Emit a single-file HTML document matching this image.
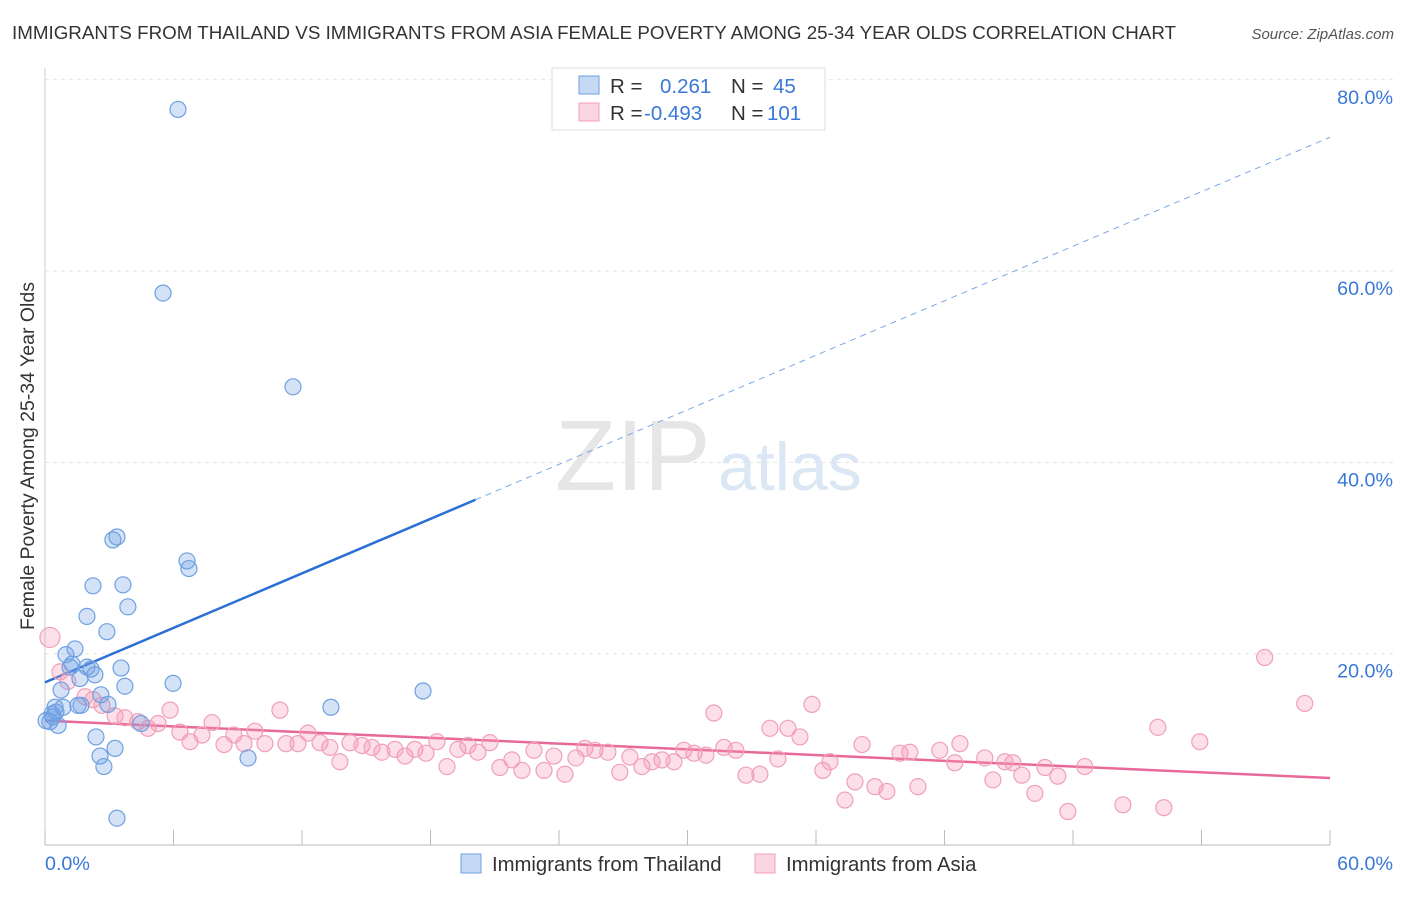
<!DOCTYPE html>
<html><head><meta charset="utf-8"><style>
body{margin:0;background:#fff;font-family:"Liberation Sans",sans-serif;}
svg text{font-family:"Liberation Sans",sans-serif;}
</style></head><body>
<svg id="chart" width="1406" height="892">
<text x="12" y="39" font-size="18.5" fill="#333" textLength="1164" lengthAdjust="spacingAndGlyphs">IMMIGRANTS FROM THAILAND VS IMMIGRANTS FROM ASIA FEMALE POVERTY AMONG 25-34 YEAR OLDS CORRELATION CHART</text>
<text x="1394" y="39" font-size="15" fill="#555" text-anchor="end" font-style="italic">Source: ZipAtlas.com</text>
<g id="grid"></g>
<text x="555" y="490" font-size="100" fill="#e6e6e6" font-family="Liberation Serif">ZIP</text>
<text x="718" y="490" font-size="68" fill="#dce7f5">atlas</text>
<g id="axes"></g>
<g id="trend"></g>
<g id="pts"></g>
<text transform="translate(34,456) rotate(-90)" font-size="19.5" fill="#333" text-anchor="middle">Female Poverty Among 25-34 Year Olds</text>
<g>
<rect x="552" y="68" width="273" height="62" fill="#fff" stroke="#ddd"/>
<rect x="579" y="76" width="20" height="18" fill="rgba(110,160,230,0.4)" stroke="#6fa0e0"/>
<rect x="579" y="103" width="20" height="18" fill="rgba(245,150,180,0.4)" stroke="#f0a0b8"/>
<text x="610" y="93" font-size="20.5" fill="#333">R = <tspan fill="#3a78d8" x="660">0.261</tspan><tspan x="731" fill="#333">N = </tspan><tspan fill="#3a78d8" x="773">45</tspan></text>
<text x="610" y="120" font-size="20.5" fill="#333">R = <tspan fill="#3a78d8" x="644">-0.493</tspan><tspan x="731" fill="#333">N = </tspan><tspan fill="#3a78d8" x="767">101</tspan></text>
</g>
<g>
<rect x="461" y="854" width="20" height="19" fill="rgba(110,160,230,0.4)" stroke="#6fa0e0"/>
<text x="492" y="871" font-size="20.3" fill="#333">Immigrants from Thailand</text>
<rect x="755" y="854" width="20" height="19" fill="rgba(245,150,180,0.4)" stroke="#f0a0b8"/>
<text x="786" y="871" font-size="20.3" fill="#333">Immigrants from Asia</text>
</g>
</svg>
<script>
const yTicks=[20,40,60,80];
const yTickLabels=["20.0%","40.0%","60.0%","80.0%"];
const xTickVals=[0,6,12,18,24,30,36,42,48,54,60];
const xLabels=["0.0%","60.0%"];
const thaiX=[6.21,5.51,11.58,3.36,3.17,6.63,6.72,2.24,3.64,3.87,1.96,2.89,1.40,0.98,1.17,1.26,1.96,2.15,3.55,2.33,1.63,3.73,5.98,0.75,2.61,17.65,1.68,1.54,2.94,0.84,0.47,13.35,0.33,0.51,0.23,0.61,4.48,2.38,3.27,2.57,9.48,2.75,3.36,0.37,0.05];
const thaiY=[76.9,57.7,47.9,32.2,31.9,29.7,28.9,27.1,27.2,24.9,23.9,22.3,20.5,19.9,18.6,18.9,18.6,18.4,18.5,17.8,17.4,16.6,16.9,16.2,15.7,16.1,14.6,14.6,14.7,14.4,14.4,14.4,13.7,13.9,12.9,12.5,12.7,11.3,10.1,9.3,9.1,8.2,2.8,13.4,13.0];
const asiaX=[0.23,0.70,1.07,1.87,2.24,2.66,3.27,3.73,4.34,4.81,5.28,5.84,6.30,6.77,7.33,7.80,8.36,8.82,9.29,9.80,10.27,10.97,11.25,11.81,12.28,12.84,13.30,13.77,14.24,14.80,15.27,15.73,16.34,16.81,17.27,17.79,18.30,18.77,19.28,19.75,20.21,20.77,21.24,21.80,22.27,22.83,23.30,23.76,24.28,24.79,25.21,25.68,26.28,26.84,27.31,27.87,28.34,28.81,29.37,29.83,30.30,30.86,31.23,31.70,32.26,32.73,33.38,33.85,34.22,34.69,35.25,35.81,36.32,36.65,37.35,37.82,38.15,38.75,39.31,39.92,40.38,40.76,41.78,42.48,42.72,44.26,43.88,44.82,45.19,45.61,46.22,46.69,47.29,47.76,48.55,50.33,51.96,52.24,53.92,56.95,58.82];
const asiaY=[21.7,18.1,17.1,15.5,15.2,14.6,13.5,13.3,12.9,12.2,12.7,14.1,11.8,10.8,11.5,12.8,10.5,11.5,10.6,11.9,10.6,14.1,10.6,10.6,11.7,10.7,10.2,8.7,10.7,10.4,10.2,9.7,10.0,9.3,10.0,9.6,10.8,8.2,10.0,10.4,9.7,10.7,8.1,8.9,7.8,9.9,7.8,9.3,7.4,9.1,10.1,9.9,9.7,7.6,9.2,8.2,8.7,8.9,8.7,9.9,9.6,9.4,13.8,10.2,9.9,7.3,7.4,12.2,9.0,12.2,11.3,14.7,7.8,8.7,4.7,6.6,10.5,6.1,5.6,9.6,9.7,6.1,9.9,8.6,10.6,6.8,9.1,8.7,8.6,7.3,5.4,8.1,7.2,3.5,8.2,4.2,12.3,3.9,10.8,19.6,14.8];
const thaiTrend=[17.0,74.0];
const asiaTrend=[13.0,7.0];
const thaiSolidEnd=20.1;

const NS="http://www.w3.org/2000/svg";
const sx=v=>45+v*(1285/60);
const sy=v=>845-v*9.565;
function mk(tag,attrs,parent){const e=document.createElementNS(NS,tag);for(const k in attrs)e.setAttribute(k,attrs[k]);parent.appendChild(e);return e;}
const grid=document.getElementById('grid'),axes=document.getElementById('axes'),trend=document.getElementById('trend'),pts=document.getElementById('pts');
yTicks.forEach((t,i)=>{
 const l=mk('line',{x1:45,x2:1394,y1:sy(t),y2:sy(t),stroke:'#e2e2e2','stroke-dasharray':'4,4'},grid);
 
 
 const tx=mk('text',{x:1393,y:sy(t)+24,'font-size':19.7,fill:'#3a78d8','text-anchor':'end'},axes);
 tx.textContent=yTickLabels[i];
 
 
});
const ax=mk('line',{x1:45,x2:1330,y1:845,y2:845,stroke:'#bbb'},axes);


const ay=mk('line',{x1:45,x2:45,y1:68,y2:845,stroke:'#ccc'},axes);


xTickVals.forEach(v=>{
 const t=mk('line',{x1:sx(v),x2:sx(v),y1:830,y2:845,stroke:'#bbb'},axes);
 
 
});
[[0,'start',45],[60,'end',1393]].forEach((d,i)=>{
 const t=mk('text',{x:d[2],y:870,'font-size':19.7,fill:'#3a78d8','text-anchor':d[1]},axes);
 t.textContent=xLabels[i];
 
 
});
const tf=(tr,x)=>tr[0]+(tr[1]-tr[0])*x/60;
let l1=mk('line',{x1:sx(0),y1:sy(tf(thaiTrend,0)),x2:sx(thaiSolidEnd),y2:sy(tf(thaiTrend,thaiSolidEnd)),stroke:'#2a6fd6','stroke-width':2.5},trend);


let l2=mk('line',{x1:sx(thaiSolidEnd),y1:sy(tf(thaiTrend,thaiSolidEnd)),x2:sx(60),y2:sy(tf(thaiTrend,60)),stroke:'#7aa6e6','stroke-width':1,'stroke-dasharray':'6,5'},trend);


let l3=mk('line',{x1:sx(0),y1:sy(tf(asiaTrend,0)),x2:sx(60),y2:sy(tf(asiaTrend,60)),stroke:'#e8689a','stroke-width':2.5},trend);


asiaX.forEach((x,i)=>{
 const c=mk('circle',{cx:sx(x),cy:sy(asiaY[i]),r:i==0?10:8,fill:'rgba(245,150,180,0.3)',stroke:'#f0a0b8','stroke-width':1.2},pts);
 
 
});
thaiX.forEach((x,i)=>{
 const c=mk('circle',{cx:sx(x),cy:sy(thaiY[i]),r:8,fill:'rgba(110,160,230,0.3)',stroke:'#6fa0e0','stroke-width':1.2},pts);
 
 
});
</script>
</body></html>
